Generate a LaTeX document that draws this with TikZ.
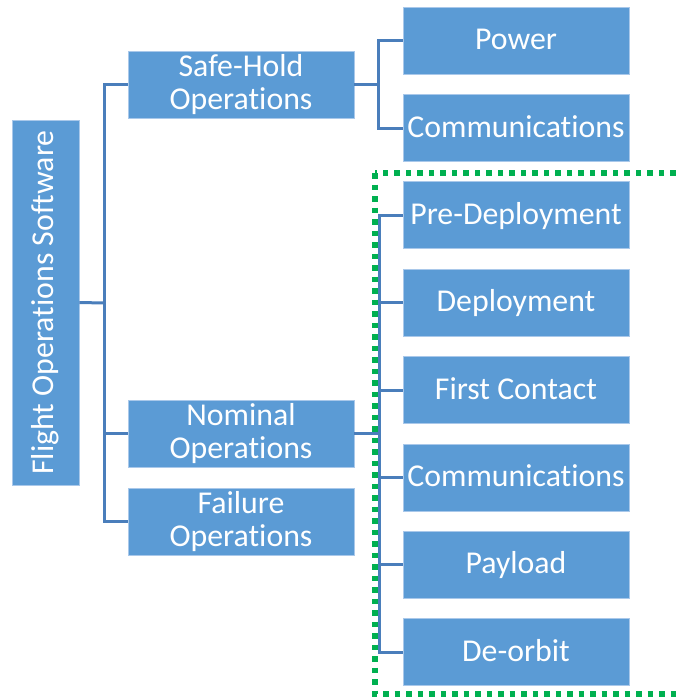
\documentclass[tikz,border=0pt]{standalone}
\usepackage{fontspec}
\setmainfont{Carlito}[Ligatures=NoCommon]
\definecolor{boxblue}{HTML}{5B9BD5}
\definecolor{boxedge}{HTML}{A9C8EA}
\definecolor{connblue}{HTML}{4A7EBB}
\definecolor{dotgreen}{HTML}{00B050}
\tikzset{
  x=1pt, y=-1pt,
  box/.style={rectangle, fill=boxblue, draw=boxedge, line width=0.8pt, inner sep=0pt,
    text=white, font=\fontsize{31.8}{33}\selectfont},
  rootbox/.style={box, minimum width=365pt, minimum height=67pt, rotate=90},
  midbox/.style={box, minimum width=226pt, minimum height=67pt, align=center},
  leafbox/.style={box, minimum width=226pt, minimum height=67pt, text height=21.5pt, text depth=3.5pt},
  conn/.style={draw=connblue, line width=3pt},
  dotframe/.style={draw=dotgreen, line width=5.5pt, dash pattern=on 5.5pt off 6pt}
}
\begin{document}
\begin{tikzpicture}
\useasboundingbox (0,0) rectangle (678,698);
\clip (0,0) rectangle (678,698);
% nodes
\node[rootbox] (root) at (45.5,302.5) {Flight Operations Software};
\node[midbox] (sh) at (241,84.5) {Safe-Hold\\Operations};
\node[midbox] (nom) at (241,433.5) {Nominal\\Operations};
\node[midbox] (fail) at (241,521.5) {Failure\\Operations};
\node[leafbox] (pow) at (516,40.5) {Power};
\node[leafbox] (com1) at (516,128) {Communications};
\node[leafbox] (pre) at (516,215) {Pre-Deployment};
\node[leafbox] (dep) at (516,302.5) {Deployment};
\node[leafbox] (fc) at (516,390) {First Contact};
\node[leafbox] (com2) at (516,477.5) {Communications};
\node[leafbox] (pay) at (516,564.5) {Payload};
\node[leafbox] (deo) at (516,652) {De-orbit};
% junction coordinates
\coordinate (j1) at (104,303);
\coordinate (j2) at (378,84.5);
\coordinate (j3) at (379,433.5);
% connectors
\draw[conn] (root.south) -- (j1);
\draw[conn] (sh.west) -- (sh.west -| j1) -- (fail.west -| j1) -- (fail.west);
\draw[conn] (nom.west -| j1) -- (nom.west);
\draw[conn] (sh.east) -- (j2);
\draw[conn] (pow.west) -- (pow.west -| j2) -- (com1.west -| j2) -- (com1.west);
\draw[conn] (nom.east) -- (j3);
\draw[conn] (pre.west) -- (pre.west -| j3) -- (deo.west -| j3) -- (deo.west);
\foreach \n in {dep,fc,com2,pay}{
  \draw[conn] (\n.west -| j3) -- (\n.west);
}
% dotted frame
\coordinate (f1) at (375,173);
\coordinate (f2) at (700,694);
\draw[dotframe] (f1) rectangle (f2);
\end{tikzpicture}
\end{document}
